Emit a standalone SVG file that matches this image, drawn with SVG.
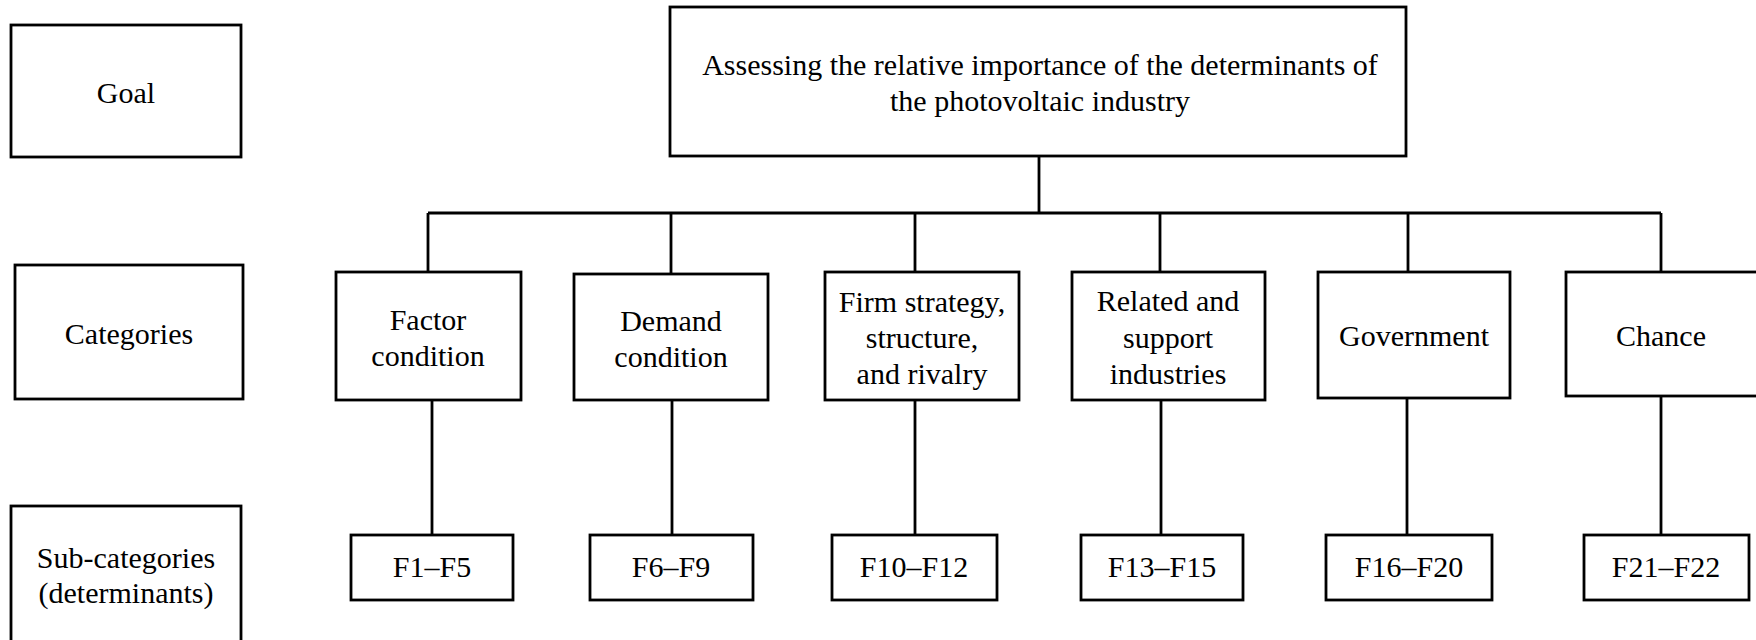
<svg xmlns="http://www.w3.org/2000/svg" width="1756" height="640" viewBox="0 0 1756 640">
<style>
.box{fill:#fff;stroke:#000;stroke-width:2.8}
.ln{fill:none;stroke:#000;stroke-width:2.8}
text{font-family:"Liberation Serif","Times New Roman",serif;font-size:30px;fill:#000;text-anchor:middle}
</style>
<rect width="1756" height="640" fill="#fff"/>
<g id="connectors">
<path class="ln" d="M1039 156V213M428 213H1661M428 213V272M671 213V274M915 213V272M1160 213V272M1408 213V272M1661 213V272"/>
<path class="ln" d="M432 400V535M672 400V535M915 400V535M1161 400V535M1407 398V535M1661 396V535"/>
</g>
<g id="goal-label"><rect class="box" x="11" y="25" width="230" height="132"/><text x="126" y="103">Goal</text></g>
<g id="categories-label"><rect class="box" x="15" y="265" width="228" height="134"/><text x="129" y="344">Categories</text></g>
<g id="subcategories-label"><rect class="box" x="11" y="506" width="230" height="140"/><text x="126" y="568">Sub-categories</text><text x="126" y="603">(determinants)</text></g>
<g id="goal"><rect class="box" x="670" y="7" width="736" height="149"/><text x="1040" y="75">Assessing the relative importance of the determinants of</text><text x="1040" y="111">the photovoltaic industry</text></g>
<g id="factor"><rect class="box" x="336" y="272" width="185" height="128"/><text x="428" y="330">Factor</text><text x="428" y="366">condition</text></g>
<g id="demand"><rect class="box" x="574" y="274" width="194" height="126"/><text x="671" y="331">Demand</text><text x="671" y="367">condition</text></g>
<g id="firm"><rect class="box" x="825" y="272" width="194" height="128"/><text x="922" y="312">Firm strategy,</text><text x="922" y="348">structure,</text><text x="922" y="384">and rivalry</text></g>
<g id="related"><rect class="box" x="1072" y="272" width="193" height="128"/><text x="1168" y="311">Related and</text><text x="1168" y="348">support</text><text x="1168" y="384">industries</text></g>
<g id="government"><rect class="box" x="1318" y="272" width="192" height="126"/><text x="1414" y="346">Government</text></g>
<g id="chance"><rect class="box" x="1566" y="272" width="200" height="124"/><text x="1661" y="346">Chance</text></g>
<g id="f1-f5"><rect class="box" x="351" y="535" width="162" height="65"/><text x="432" y="577">F1–F5</text></g>
<g id="f6-f9"><rect class="box" x="590" y="535" width="163" height="65"/><text x="671" y="577">F6–F9</text></g>
<g id="f10-f12"><rect class="box" x="832" y="535" width="165" height="65"/><text x="914" y="577">F10–F12</text></g>
<g id="f13-f15"><rect class="box" x="1081" y="535" width="162" height="65"/><text x="1162" y="577">F13–F15</text></g>
<g id="f16-f20"><rect class="box" x="1326" y="535" width="166" height="65"/><text x="1409" y="577">F16–F20</text></g>
<g id="f21-f22"><rect class="box" x="1584" y="535" width="165" height="65"/><text x="1666" y="577">F21–F22</text></g>
</svg>
